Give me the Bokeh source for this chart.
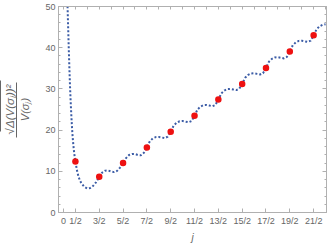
from bokeh.plotting import figure
from bokeh.models import (FixedTicker, SingleIntervalTicker, LinearAxis, Range1d)
from bokeh.embed import file_html
from bokeh.resources import INLINE

# ---- data ----
curve_j = [0.16, 0.18, 0.2, 0.225, 0.25, 0.275, 0.3, 0.325, 0.35, 0.375, 0.4, 0.425,
           0.45, 0.475, 0.5, 0.5625, 0.625, 0.6875, 0.75, 0.875, 1.0, 1.125, 1.25,
           1.375, 1.5, 1.625, 1.75, 1.875, 2.0, 2.125, 2.25, 2.375, 2.5,
           2.625, 2.75, 2.875, 3.0, 3.125, 3.25, 3.375, 3.5,
           3.625, 3.75, 3.875, 4.0, 4.125, 4.25, 4.375, 4.5,
           4.625, 4.75, 4.875, 5.0, 5.125, 5.25, 5.375, 5.5,
           5.625, 5.75, 5.875, 6.0, 6.125, 6.25, 6.375, 6.5,
           6.625, 6.75, 6.875, 7.0, 7.125, 7.25, 7.375, 7.5,
           7.625, 7.75, 7.875, 8.0, 8.125, 8.25, 8.375, 8.5,
           8.625, 8.75, 8.875, 9.0, 9.125, 9.25, 9.375, 9.5,
           9.625, 9.75, 9.875, 10.0, 10.125, 10.25, 10.375, 10.5,
           10.625, 10.75, 10.875, 11.0]
curve_v = [52, 48, 44, 39, 34.5, 30.5, 27, 24, 21.3, 19, 17.2, 15.7,
           14.4, 13.3, 12.4, 10.3, 8.8, 7.8, 7.1, 6.2, 5.8, 5.95, 6.5,
           7.4, 8.7, 9.7, 10.15, 10.2, 9.95, 9.8, 10.1, 10.9, 12.0,
           13.2, 13.95, 14.2, 14.2, 13.95, 13.9, 14.5, 15.8,
           17.3, 18.0, 18.3, 18.35, 18.2, 18.05, 18.4, 19.6,
           21.1, 21.8, 22.15, 22.2, 22.05, 21.9, 22.2, 23.5,
           25.0, 25.7, 26.05, 26.1, 25.95, 25.8, 26.1, 27.4,
           28.9, 29.6, 29.95, 30.0, 29.85, 29.7, 30.0, 31.2,
           32.7, 33.4, 33.75, 33.8, 33.65, 33.5, 33.8, 35.1,
           36.6, 37.3, 37.65, 37.7, 37.55, 37.4, 37.75, 39.1,
           40.6, 41.3, 41.65, 41.7, 41.55, 41.4, 41.7, 43.0,
           44.5, 45.2, 45.55, 45.7]

dot_j = [0.5, 1.5, 2.5, 3.5, 4.5, 5.5, 6.5, 7.5, 8.5, 9.5, 10.5]
dot_v = [12.4, 8.7, 12.0, 15.8, 19.6, 23.5, 27.4, 31.2, 35.1, 39.1, 43.0]

x_tick_pos = [0, 0.5, 1.5, 2.5, 3.5, 4.5, 5.5, 6.5, 7.5, 8.5, 9.5, 10.5]
x_tick_labels = ["0", "1/2", "3/2", "5/2", "7/2", "9/2", "11/2", "13/2",
                 "15/2", "17/2", "19/2", "21/2"]
top_tick_pos = [0, 0.5, 1, 1.5, 2, 2.5, 3, 3.5, 4, 4.5, 5, 5.5, 6, 6.5, 7, 7.5,
                8, 8.5, 9, 9.5, 10, 10.5, 11]

y_label_num = "√Δ(V(σⱼ))²"
y_label_den = "V(σⱼ)"

GREY_TXT = "#666666"
GREY_LINE = "#b0b0b0"

p = figure(width=332, height=246, x_range=Range1d(-0.21, 11.04), y_range=Range1d(0, 50),
           output_backend="svg", toolbar_location=None,
           min_border_left=56, min_border_right=6, min_border_top=6, min_border_bottom=34)
p.xgrid.visible = False
p.ygrid.visible = False
p.outline_line_color = GREY_LINE
p.background_fill_color = "white"

# bottom axis
xa = p.xaxis[0]
xa.ticker = FixedTicker(ticks=x_tick_pos, minor_ticks=[])
xa.major_label_overrides = {pos: lab for pos, lab in zip(x_tick_pos, x_tick_labels)}
xa.axis_label = "j"
xa.axis_label_standoff = 3

# left axis (carries the denominator of the label)
ya = p.yaxis[0]
ya.ticker = SingleIntervalTicker(interval=10, num_minor_ticks=5)
ya.axis_label = y_label_den
ya.axis_label_standoff = 11

for ax in (xa, ya):
    ax.axis_line_color = GREY_LINE
    ax.major_tick_line_color = GREY_LINE
    ax.minor_tick_line_color = GREY_LINE
    ax.major_tick_in = 4
    ax.major_tick_out = 0
    ax.minor_tick_in = 2
    ax.minor_tick_out = 0
    ax.major_label_text_color = GREY_TXT
    ax.major_label_text_font = "Liberation Sans"
    ax.major_label_text_font_size = "9px"
    ax.axis_label_text_font_style = "italic"
    ax.axis_label_text_font = "Liberation Sans"
    ax.axis_label_text_font_size = "11px"
    ax.axis_label_text_color = GREY_TXT
xa.axis_label_text_font_size = "10px"
xa.major_label_standoff = 3
ya.major_label_standoff = 3

# fraction bar + numerator (an axis whose line is limited by bounds)
frac = LinearAxis(bounds=(18.2, 31.5), axis_label=y_label_num,
                  axis_label_standoff=1, axis_label_text_font_style="italic",
                  axis_label_text_font="Liberation Sans",
                  axis_label_text_font_size="11.5px", axis_label_text_color=GREY_TXT,
                  axis_line_color=GREY_TXT, axis_line_width=1,
                  major_tick_line_color=None, minor_tick_line_color=None,
                  major_tick_in=0, major_tick_out=0, minor_tick_in=0, minor_tick_out=0,
                  major_label_text_font_size="0px", major_label_text_color=None,
                  major_label_standoff=0)
p.add_layout(frac, "left")
# radical overline
rad = LinearAxis(bounds=(19.6, 32.0), axis_line_color=GREY_TXT, axis_line_width=1,
                 major_tick_line_color=None, minor_tick_line_color=None,
                 major_tick_in=0, major_tick_out=0, minor_tick_in=0, minor_tick_out=0,
                 major_label_text_font_size="0px", major_label_text_color=None,
                 major_label_standoff=0)
p.add_layout(rad, "left")

# mirrored axes (ticks only, no labels drawn)
top = LinearAxis(ticker=FixedTicker(ticks=top_tick_pos, minor_ticks=[]),
                 major_label_text_font_size="0px", major_label_text_color=None,
                 major_label_standoff=0,
                 axis_line_color=GREY_LINE, major_tick_line_color=GREY_LINE,
                 major_tick_in=3, major_tick_out=0, minor_tick_line_color=None)
right = LinearAxis(ticker=SingleIntervalTicker(interval=10, num_minor_ticks=5),
                   major_label_text_font_size="0px", major_label_text_color=None,
                   major_label_standoff=0,
                   axis_line_color=GREY_LINE, major_tick_line_color=GREY_LINE,
                   minor_tick_line_color=GREY_LINE,
                   major_tick_in=4, major_tick_out=0, minor_tick_in=2, minor_tick_out=0)
p.add_layout(top, "above")
p.add_layout(right, "right")

# data
p.line(curve_j, curve_v, line_color="#3b5ca6", line_width=2, line_dash="2 2")
p.scatter(dot_j, dot_v, size=6.5, fill_color="#ee1111", line_color=None)

open("out.html", "w").write(file_html(p, INLINE))
